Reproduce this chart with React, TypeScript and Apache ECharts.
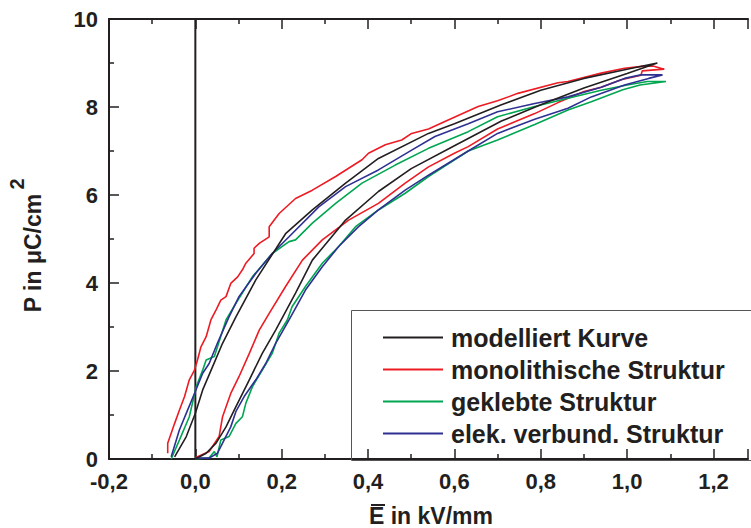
import React, { useEffect, useRef } from "react";
import * as echarts from "echarts";

// ---------- data (E in kV/mm, P in µC/cm²) ----------
const seriesNames = [
  "modelliert Kurve",
  "monolithische Struktur",
  "geklebte Struktur",
  "elek. verbund. Struktur",
];
const seriesColors = ["#231f20", "#ed1c24", "#00a651", "#2e3192"];

// modelled curve
const modelLowerE = [0, 0.025, 0.048, 0.071, 0.094, 0.125, 0.155, 0.186, 0.232, 0.271, 0.348, 0.424, 0.5, 0.6, 0.709, 0.8, 0.9, 1.0, 1.07];
const modelLowerP = [0, 0.13, 0.36, 0.73, 1.19, 1.8, 2.4, 2.93, 3.77, 4.52, 5.43, 6.08, 6.6, 7.12, 7.68, 8.05, 8.43, 8.76, 9.0];
const modelUpperE = [1.07, 1.0, 0.9, 0.8, 0.709, 0.6, 0.54, 0.424, 0.348, 0.271, 0.209, 0.14, 0.094, 0.063, 0.04, 0.017, 0, -0.021, -0.048];
const modelUpperP = [9.0, 8.86, 8.65, 8.38, 8.05, 7.62, 7.4, 6.83, 6.27, 5.66, 5.12, 4.07, 3.23, 2.63, 2.1, 1.57, 1.04, 0.51, 0.05];

// monolithic structure
const monoLowerE = [0, 0.032, 0.055, 0.063, 0.082, 0.101, 0.125, 0.148, 0.171, 0.209, 0.248, 0.294, 0.355, 0.424, 0.486, 0.54, 0.6, 0.632, 0.7, 0.786, 0.84, 0.9, 0.94, 0.986, 1.032, 1.035, 1.086];
const monoLowerP = [0.03, 0.17, 0.51, 0.96, 1.49, 1.87, 2.4, 2.93, 3.31, 3.92, 4.52, 4.98, 5.43, 5.81, 6.27, 6.64, 6.95, 7.1, 7.5, 7.85, 8.1, 8.35, 8.45, 8.62, 8.72, 8.82, 8.86];
const monoUpperE = [1.086, 1.06, 1.04, 0.994, 0.94, 0.863, 0.84, 0.747, 0.7, 0.655, 0.578, 0.54, 0.501, 0.478, 0.44, 0.401, 0.386, 0.325, 0.271, 0.232, 0.194, 0.171, 0.171, 0.148, 0.136, 0.136, 0.117, 0.109, 0.098, 0.082, 0.071, 0.059, 0.048, 0.036, 0.025, 0.013, 0.005, -0.002, -0.014, -0.025, -0.037, -0.048, -0.064, -0.064];
const monoUpperP = [8.86, 8.93, 8.93, 8.88, 8.77, 8.58, 8.55, 8.31, 8.14, 8.01, 7.67, 7.5, 7.4, 7.25, 7.14, 6.95, 6.8, 6.42, 6.11, 5.92, 5.58, 5.28, 5.05, 4.9, 4.79, 4.67, 4.45, 4.3, 4.14, 3.99, 3.69, 3.61, 3.39, 3.16, 2.78, 2.55, 2.25, 2.02, 1.8, 1.42, 1.11, 0.81, 0.36, 0.13];

// glued structure
const glueLowerE = [0, 0.032, 0.044, 0.05, 0.059, 0.078, 0.094, 0.109, 0.117, 0.132, 0.155, 0.178, 0.194, 0.213, 0.224, 0.255, 0.294, 0.332, 0.371, 0.424, 0.486, 0.54, 0.632, 0.7, 0.786, 0.863, 0.917, 0.99, 1.03, 1.09];
const glueLowerP = [0, 0.03, 0.17, 0.05, 0.43, 0.51, 0.81, 0.96, 1.27, 1.64, 2.02, 2.4, 2.86, 3.16, 3.46, 3.92, 4.45, 4.83, 5.28, 5.66, 6.04, 6.42, 7.0, 7.25, 7.6, 7.93, 8.12, 8.39, 8.5, 8.58];
const glueUpperE = [1.09, 1.047, 1.0, 0.94, 0.863, 0.786, 0.7, 0.632, 0.54, 0.463, 0.386, 0.325, 0.271, 0.232, 0.217, 0.178, 0.132, 0.094, 0.071, 0.044, 0.025, 0.017, 0.002, -0.014, -0.037, -0.056];
const glueUpperP = [8.58, 8.58, 8.5, 8.38, 8.2, 8.01, 7.78, 7.44, 7.06, 6.68, 6.27, 5.81, 5.36, 4.98, 4.94, 4.67, 4.14, 3.54, 3.16, 2.33, 2.25, 2.02, 1.64, 0.96, 0.43, 0];

// electrically bonded structure
const elekLowerE = [0, 0.032, 0.051, 0.063, 0.082, 0.094, 0.113, 0.14, 0.163, 0.186, 0.217, 0.255, 0.294, 0.332, 0.378, 0.424, 0.486, 0.54, 0.632, 0.7, 0.786, 0.863, 0.917, 0.994, 1.05, 1.082];
const elekLowerP = [0.02, 0.02, 0.13, 0.36, 0.73, 1.08, 1.42, 1.8, 2.17, 2.63, 3.16, 3.84, 4.37, 4.83, 5.28, 5.66, 6.11, 6.45, 7.0, 7.4, 7.72, 7.97, 8.23, 8.5, 8.65, 8.73];
const elekUpperE = [1.082, 1.032, 0.994, 0.94, 0.863, 0.786, 0.7, 0.632, 0.555, 0.501, 0.424, 0.348, 0.286, 0.217, 0.178, 0.14, 0.101, 0.078, 0.051, 0.032, 0.017, -0.002, -0.018, -0.037, -0.056];
const elekUpperP = [8.73, 8.73, 8.65, 8.45, 8.23, 8.08, 7.89, 7.62, 7.33, 7.02, 6.57, 6.19, 5.73, 5.05, 4.67, 4.22, 3.69, 3.23, 2.63, 2.17, 1.95, 1.49, 1.11, 0.66, 0.05];

// axes
const xMin = -0.2;
const xMax = 1.28;
const xStep = 0.2;
const yMin = 0;
const yMax = 10;
const yStep = 2;
const zeroLineE = [0, 0];
const zeroLineP = [0, 10];

const zip = (a: number[], b: number[]) => a.map((v, i) => [v, b[i]]);
const loop = (le: number[], lp: number[], ue: number[], up: number[]) =>
  zip(le, lp).concat(zip(ue, up));

const INK = "#231f20";
const FONT = '"Liberation Sans", Arial, Helvetica, sans-serif';

export default function App() {
  const ref = useRef<HTMLDivElement>(null);
  useEffect(() => {
    if (!ref.current) return;
    const chart = echarts.init(ref.current, undefined, { renderer: "svg" });
    const loops = [
      loop(modelLowerE, modelLowerP, modelUpperE, modelUpperP),
      loop(monoLowerE, monoLowerP, monoUpperE, monoUpperP),
      loop(glueLowerE, glueLowerP, glueUpperE, glueUpperP),
      loop(elekLowerE, elekLowerP, elekUpperE, elekUpperP),
    ];
    const xFmt = (v: number) =>
      Math.abs(v / xStep - Math.round(v / xStep)) < 1e-6
        ? v.toFixed(1).replace(".", ",").replace("-0,0", "0,0")
        : "";
    const tickStyle = { color: INK, width: 1.5 };
    const commonX = {
      type: "value",
      min: xMin,
      max: xMax,
      interval: xStep,
      splitLine: { show: false },
      axisLine: { show: true, onZero: false, lineStyle: { color: INK, width: 2 } },
      axisTick: { show: true, inside: true, length: 10, lineStyle: tickStyle },
      minorTick: { show: true, splitNumber: 2, length: 5, lineStyle: tickStyle },
    };
    chart.setOption({
      animation: false,
      grid: { left: 109, right: 0, top: 19, bottom: 69 },
      xAxis: [
        {
          ...commonX,
          position: "bottom",
          axisLabel: {
            formatter: xFmt,
            fontSize: 22,
            fontWeight: "bold",
            fontFamily: FONT,
            color: INK,
            margin: 11,
          },
        },
        {
          ...commonX,
          position: "top",
          axisLabel: { show: false },
        },
      ],
      yAxis: {
        type: "value",
        min: yMin,
        max: yMax,
        interval: yStep,
        splitLine: { show: false },
        axisLine: { show: true, onZero: false, lineStyle: { color: INK, width: 2 } },
        axisTick: { show: true, inside: true, length: 10, lineStyle: tickStyle },
        minorTick: { show: true, splitNumber: 2, length: 5, lineStyle: tickStyle },
        axisLabel: {
          fontSize: 22,
          fontWeight: "bold",
          fontFamily: FONT,
          color: INK,
          margin: 11,
        },
      },
      legend: {
        data: seriesNames,
        orient: "vertical",
        left: 383,
        top: 325,
        padding: 0,
        itemGap: 7,
        itemWidth: 60,
        itemHeight: 2,
        icon: "rect",
        textStyle: {
          fontSize: 25,
          fontWeight: "bold",
          fontFamily: FONT,
          color: INK,
          padding: [0, 0, 0, 3],
        },
      },
      graphic: [
        {
          type: "rect",
          z: 1,
          shape: { x: 351.5, y: 310.5, width: 420, height: 150 },
          style: { fill: "none", stroke: "#555", lineWidth: 1 },
        },
        {
          type: "text",
          x: 33,
          y: 253,
          rotation: Math.PI / 2,
          style: {
            text: "P in μC/cm",
            fontSize: 23,
            fontWeight: "bold",
            fontFamily: FONT,
            fill: INK,
            align: "center",
            verticalAlign: "middle",
            textAlign: "center",
            textVerticalAlign: "middle",
          },
        },
        {
          type: "text",
          x: 17,
          y: 184,
          rotation: Math.PI / 2,
          style: {
            text: "2",
            fontSize: 20,
            fontWeight: "bold",
            fontFamily: FONT,
            fill: INK,
            align: "center",
            verticalAlign: "middle",
            textAlign: "center",
            textVerticalAlign: "middle",
          },
        },
        {
          type: "text",
          x: 369,
          y: 516,
          style: {
            text: "E in kV/mm",
            fontSize: 23,
            fontWeight: "bold",
            fontFamily: FONT,
            fill: INK,
            align: "left",
            verticalAlign: "middle",
            textAlign: "left",
            textVerticalAlign: "middle",
          },
        },
        {
          type: "line",
          shape: { x1: 371, y1: 505, x2: 385, y2: 505 },
          style: { stroke: INK, lineWidth: 2 },
        },
      ],
      series: [
        {
          name: "zero",
          type: "line",
          data: zip(zeroLineE, zeroLineP),
          symbol: "none",
          silent: true,
          lineStyle: { color: INK, width: 2 },
          itemStyle: { color: INK },
          z: 1,
        },
        ...loops.map((d, i) => ({
          name: seriesNames[i],
          type: "line",
          data: d,
          symbol: "none",
          showSymbol: false,
          lineStyle: { color: seriesColors[i], width: 1.6 },
          itemStyle: { color: seriesColors[i] },
          z: i === 0 ? 5 : 3,
        })),
      ],
    });
    return () => chart.dispose();
  }, []);
  return (
    <div
      ref={ref}
      style={{ position: "absolute", left: 0, top: 0, width: 751, height: 528, background: "#fff" }}
    />
  );
}
